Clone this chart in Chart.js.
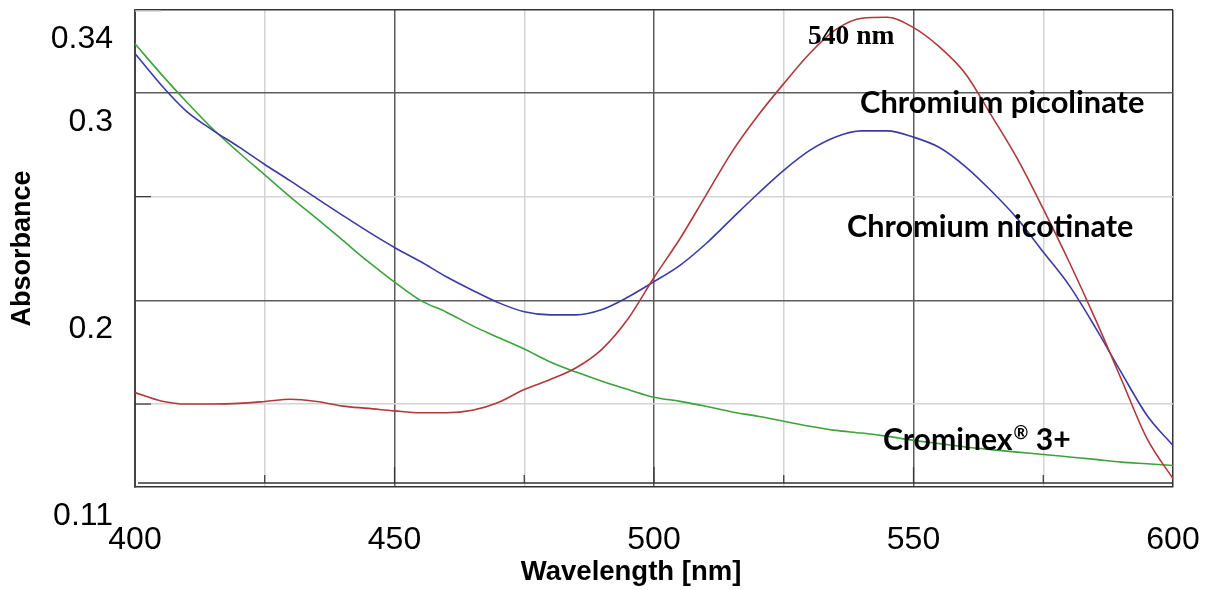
<!DOCTYPE html>
<html>
<head>
<meta charset="utf-8">
<title>Absorbance spectra</title>
<script src="https://cdn.jsdelivr.net/npm/chart.js@4.4.1/dist/chart.umd.min.js"></script>
<style>
  html, body { margin: 0; padding: 0; background: #fff; }
  #wrap { width: 1216px; height: 590px; }
</style>
</head>
<body>
<div id="wrap"><canvas id="spectra" width="1216" height="590"></canvas></div>
<script>
// wavelength samples (nm)
const wavelengths = [400, 405, 410, 415, 420, 425, 430, 435, 440, 445,
  450, 455, 460, 465, 470, 475, 480, 485, 490, 495,
  500, 505, 510, 515, 520, 525, 530, 535, 540, 545,
  550, 555, 560, 565, 570, 575, 580, 585, 590, 595, 600];

// absorbance
const picolinate = [0.1555, 0.1515, 0.1500, 0.1500, 0.1503, 0.1512, 0.1523, 0.1512, 0.1490, 0.1479,
  0.1467, 0.1458, 0.1458, 0.1470, 0.1508, 0.1570, 0.1618, 0.1675, 0.1765, 0.1911,
  0.2110, 0.2297, 0.2506, 0.2715, 0.2890, 0.3045, 0.3190, 0.3305, 0.3360, 0.3365,
  0.3315, 0.3222, 0.3093, 0.2892, 0.2683, 0.2441, 0.2185, 0.1912, 0.1622, 0.1333, 0.1140];

const nicotinate = [0.3190, 0.3040, 0.2910, 0.2820, 0.2740, 0.2655, 0.2575, 0.2492, 0.2410, 0.2330,
  0.2255, 0.2187, 0.2114, 0.2049, 0.1989, 0.1945, 0.1930, 0.1930, 0.1956, 0.2016,
  0.2090, 0.2169, 0.2273, 0.2394, 0.2514, 0.2627, 0.2723, 0.2788, 0.2817, 0.2817,
  0.2787, 0.2737, 0.2645, 0.2527, 0.2394, 0.2233, 0.2072, 0.1871, 0.1654, 0.1445, 0.1300];

const crominex = [0.3237, 0.3092, 0.2955, 0.2826, 0.2713, 0.2605, 0.2497, 0.2395, 0.2290, 0.2185,
  0.2088, 0.2000, 0.1943, 0.1878, 0.1821, 0.1765, 0.1703, 0.1654, 0.1610, 0.1570,
  0.1533, 0.1513, 0.1489, 0.1462, 0.1441, 0.1417, 0.1393, 0.1373, 0.1360, 0.1344,
  0.1325, 0.1309, 0.1293, 0.1280, 0.1268, 0.1257, 0.1245, 0.1233, 0.1220, 0.1212, 0.1204];

// axes
const xTicks = [400, 425, 450, 475, 500, 525, 550, 575, 600];
const xLabelTicks = [400, 450, 500, 550, 600];
const yTicks = [0.11, 0.15, 0.2, 0.25, 0.3, 0.34];
const yLabelTicks = [0.11, 0.2, 0.3, 0.34];
const yLabelTexts = ['0.11', '0.2', '0.3', '0.34'];

const DARK = '#5c5c5c';
const LIGHT = '#d4d4d4';

function toPoints(values) {
  return wavelengths.map((w, i) => ({ x: w, y: values[i] }));
}

// fit a bold font so the text spans a given width
function fitFont(ctx, text, family, width) {
  ctx.font = 'bold 100px ' + family;
  return Math.round(100 * width / ctx.measureText(text).width * 10) / 10;
}

// curve names and peak mark, placed in data units
const labelPlugin = {
  id: 'curveLabels',
  afterDatasetsDraw(chart) {
    const { ctx, chartArea, scales: { x, y } } = chart;
    ctx.save();

    // second bottom rule and the short inner tick marks
    ctx.strokeStyle = '#333';
    ctx.lineWidth = 1.5;
    ctx.beginPath();
    ctx.moveTo(chartArea.left + 3, chartArea.bottom - 4);
    ctx.lineTo(chartArea.right, chartArea.bottom - 4);
    ctx.stroke();
    ctx.lineWidth = 1.2;
    xTicks.slice(1, -1).forEach(v => {
      const px = x.getPixelForValue(v);
      const len = xLabelTicks.includes(v) ? 16 : 8;
      ctx.beginPath();
      ctx.moveTo(px, chartArea.bottom - 4);
      ctx.lineTo(px, chartArea.bottom - 4 - len);
      ctx.stroke();
    });
    [0.15, 0.25].forEach(v => {
      const py = y.getPixelForValue(v);
      ctx.beginPath();
      ctx.moveTo(chartArea.left, py);
      ctx.lineTo(chartArea.left + 16, py);
      ctx.stroke();
    });
    ctx.strokeStyle = '#c8c8c8';
    ctx.beginPath();
    ctx.moveTo(chartArea.left, chartArea.top + 1);
    ctx.lineTo(chartArea.left + 26, chartArea.top + 1);
    ctx.stroke();

    ctx.fillStyle = '#000';
    ctx.textBaseline = 'alphabetic';

    ctx.textAlign = 'center';
    ctx.font = 'bold 27.5px "Liberation Serif", "Times New Roman", serif';
    ctx.fillText('540 nm', x.getPixelForValue(538.0), y.getPixelForValue(0.3235));

    ctx.textAlign = 'left';
    const fam = 'Lato, "Open Sans", sans-serif';
    let size = fitFont(ctx, 'Chromium picolinate', fam, 284);
    ctx.font = 'bold ' + size + 'px ' + fam;
    ctx.fillText('Chromium picolinate', x.getPixelForValue(539.7), y.getPixelForValue(0.2905));

    size = fitFont(ctx, 'Chromium nicotinate', fam, 286);
    ctx.font = 'bold ' + size + 'px ' + fam;
    ctx.fillText('Chromium nicotinate', x.getPixelForValue(537.2), y.getPixelForValue(0.2305));

    // Crominex® 3+ with superscript mark
    size = fitFont(ctx, 'Crominex 3+', fam, 172);
    let px = x.getPixelForValue(544.1);
    const py = y.getPixelForValue(0.1278);
    ctx.font = 'bold ' + size + 'px ' + fam;
    ctx.fillText('Crominex', px, py);
    px += ctx.measureText('Crominex').width + 1;
    ctx.font = 'bold ' + Math.round(size * 0.58) + 'px ' + fam;
    ctx.fillText('\u00AE', px, py - size * 0.38);
    px += ctx.measureText('\u00AE').width;
    ctx.font = 'bold ' + size + 'px ' + fam;
    ctx.fillText(' 3+', px, py);

    ctx.restore();
  }
};

new Chart(document.getElementById('spectra'), {
  type: 'line',
  data: {
    datasets: [
      {
        label: 'Chromium picolinate',
        data: toPoints(picolinate),
        borderColor: '#b0393c',
        borderWidth: 1.6,
        pointRadius: 0,
        cubicInterpolationMode: 'monotone'
      },
      {
        label: 'Chromium nicotinate',
        data: toPoints(nicotinate),
        borderColor: '#3b3ba6',
        borderWidth: 1.6,
        pointRadius: 0,
        cubicInterpolationMode: 'monotone'
      },
      {
        label: 'Crominex 3+',
        data: toPoints(crominex),
        borderColor: '#3ca23c',
        borderWidth: 1.6,
        pointRadius: 0,
        cubicInterpolationMode: 'monotone'
      }
    ]
  },
  options: {
    responsive: false,
    devicePixelRatio: 1,
    animation: false,
    layout: { padding: { left: 0, right: 43, top: 10, bottom: 0 } },
    plugins: {
      legend: { display: false },
      tooltip: { enabled: false }
    },
    scales: {
      x: {
        type: 'linear',
        min: 400,
        max: 600,
        afterBuildTicks: s => { s.ticks = xTicks.map(v => ({ value: v })); },
        afterFit: s => { s.height = 103; s.paddingLeft = 0; s.paddingRight = 0; },
        ticks: {
          autoSkip: false,
          maxRotation: 0,
          padding: 34,
          color: '#000',
          font: { family: '"Liberation Sans", Arial, sans-serif', size: 32 },
          callback: v => xLabelTicks.includes(v) ? String(v) : ''
        },
        grid: {
          drawTicks: false,
          lineWidth: 1.5,
          color: c => {
            const v = c.tick.value;
            if (v === 400) return 'rgba(0,0,0,0)';
            if (v === 600) return '#333';
            return xLabelTicks.includes(v) ? DARK : LIGHT;
          }
        },
        border: { color: '#333', width: 1.5 },
        title: {
          display: true,
          // trailing spaces pull the centred title left, as in the source figure
          text: 'Wavelength [nm]      ',
          color: '#000',
          padding: { top: 0, bottom: 1 },
          font: { family: '"Liberation Sans", Arial, sans-serif', size: 27.5, weight: 'bold' }
        }
      },
      y: {
        min: 0.11,
        max: 0.34,
        afterBuildTicks: s => { s.ticks = yTicks.map(v => ({ value: v })); },
        afterFit: s => { s.width = 135; s.paddingTop = 0; s.paddingBottom = 0; },
        ticks: {
          autoSkip: false,
          padding: 22,
          labelOffset: 29,
          color: '#000',
          font: { family: '"Liberation Sans", Arial, sans-serif', size: 32 },
          callback: v => {
            const i = yLabelTicks.indexOf(v);
            return i >= 0 ? yLabelTexts[i] : '';
          }
        },
        grid: {
          drawTicks: false,
          lineWidth: 1.5,
          color: c => {
            const v = c.tick.value;
            if (v === 0.11) return 'rgba(0,0,0,0)';
            if (v === 0.34) return '#333';
            return (v === 0.2 || v === 0.3) ? DARK : LIGHT;
          }
        },
        border: { color: '#444', width: 2 },
        title: {
          display: true,
          text: 'Absorbance',
          color: '#000',
          padding: { top: 6, bottom: 0 },
          font: { family: '"Liberation Sans", Arial, sans-serif', size: 27, weight: 'bold' }
        }
      }
    }
  },
  plugins: [labelPlugin]
});
</script>
</body>
</html>
